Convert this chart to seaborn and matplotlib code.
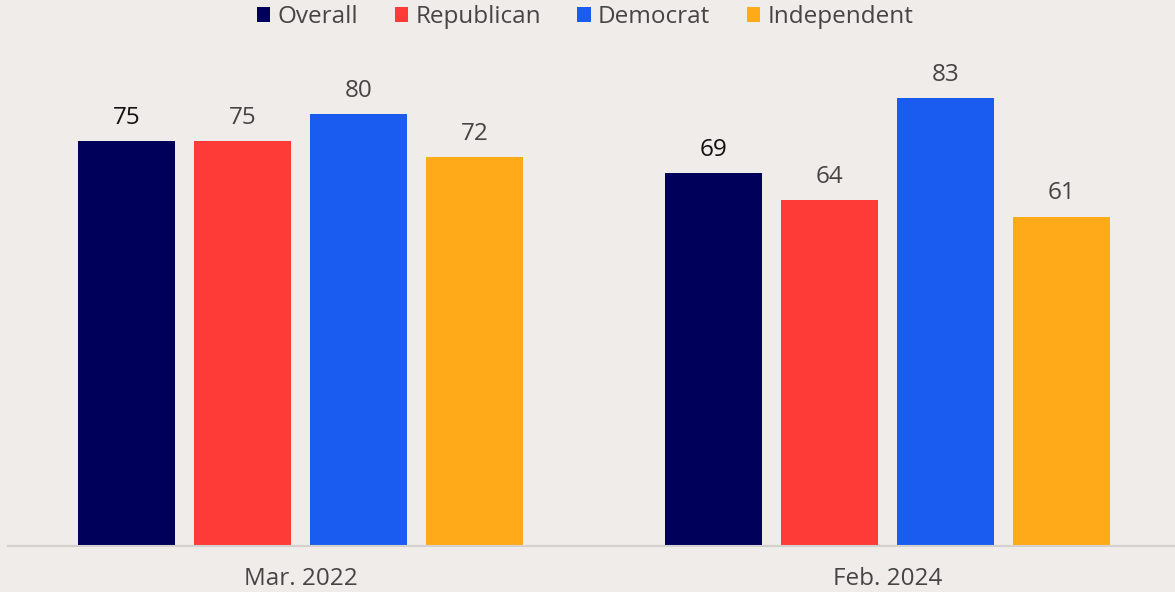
"""Grouped bar chart: share by party affiliation, Mar. 2022 vs Feb. 2024."""

import matplotlib

matplotlib.use("Agg")
import matplotlib.pyplot as plt
import pandas as pd
import seaborn as sns
from matplotlib.patches import Patch

PERIODS = ["Mar. 2022", "Feb. 2024"]
GROUPS = ["Overall", "Republican", "Democrat", "Independent"]
VALUES = {
    "Overall": [75, 69],
    "Republican": [75, 64],
    "Democrat": [80, 83],
    "Independent": [72, 61],
}
COLORS = ["#00005a", "#ff3b37", "#1a5cf0", "#ffab19"]
LABEL_COLORS = ["#111111", "#454545", "#454545", "#454545"]
BACKGROUND = "#f0ece9"

W, H = 1175, 592

rows = [
    {"period": period, "group": group, "value": VALUES[group][i]}
    for group in GROUPS
    for i, period in enumerate(PERIODS)
]
frame = pd.DataFrame(rows)

sns.set_theme(style="white")
plt.rcParams["font.family"] = ["Open Sans", "DejaVu Sans"]

fig = plt.figure(figsize=(W / 100, H / 100), dpi=100, facecolor=BACKGROUND)
ax = fig.add_axes([8 / W, 46 / H, 1167 / W, (546 - 30) / H])
ax.set_facecolor(BACKGROUND)

sns.barplot(
    data=frame,
    x="period",
    y="value",
    hue="group",
    order=PERIODS,
    hue_order=GROUPS,
    palette=COLORS,
    width=0.79,
    gap=0.165,
    saturation=1,
    linewidth=0,
    legend=False,
    ax=ax,
)

# value labels above each bar
for container, label_color in zip(ax.containers, LABEL_COLORS):
    ax.bar_label(
        container,
        fmt="%d",
        padding=8,
        fontsize=17.5,
        color=label_color,
    )

ax.set_xlim((8 - 300.5) / 587, (1175 - 300.5) / 587)
ax.set_ylim(0, (546 - 30) / 5.4)
ax.set_xlabel("")
ax.set_ylabel("")
ax.set_yticks([])
ax.tick_params(axis="x", length=0, pad=15, labelsize=17.5, labelcolor="#454545")
for side in ["top", "right", "left"]:
    ax.spines[side].set_visible(False)
ax.spines["bottom"].set_color("#d3d0ce")
ax.spines["bottom"].set_linewidth(1.5)

handles = [Patch(facecolor=c, edgecolor="none") for c in COLORS]
fig.legend(
    handles,
    GROUPS,
    loc="center",
    bbox_to_anchor=(585 / W, 1 - 17 / H),
    ncol=4,
    frameon=False,
    fontsize=17.5,
    labelcolor="#454545",
    handlelength=0.55,
    handleheight=0.55,
    handletextpad=0.3,
    columnspacing=1.5,
)

fig.savefig("out.png", dpi=100, facecolor=BACKGROUND)
